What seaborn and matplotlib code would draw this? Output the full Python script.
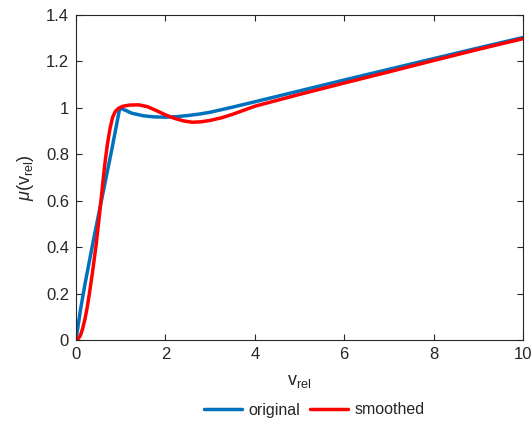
import numpy as np
import pandas as pd
import matplotlib
matplotlib.use("Agg")
import matplotlib.pyplot as plt
from matplotlib.ticker import FuncFormatter
import seaborn as sns

# friction coefficient vs. relative velocity: original piecewise model
v_original = [0.0, 0.1, 0.2, 0.4, 0.6, 0.8, 0.98, 1.1, 1.25, 1.5, 1.75, 2.0,
              2.25, 2.5, 2.75, 3.0, 3.5, 4.0, 5.0, 6.0, 7.0, 8.0, 9.0, 10.0]
mu_original = [0.0, 0.13, 0.24, 0.44, 0.63, 0.82, 1.0, 0.99, 0.977, 0.966, 0.961, 0.96,
               0.962, 0.967, 0.973, 0.981, 1.003, 1.026, 1.073, 1.12, 1.166, 1.212, 1.258, 1.303]

# smoothed approximation of the same curve
v_smoothed = [0.0, 0.05, 0.1, 0.15, 0.2, 0.25, 0.3, 0.375, 0.45, 0.52, 0.58, 0.64,
              0.7, 0.76, 0.82, 0.88, 0.95, 1.05, 1.2, 1.4, 1.6, 1.8, 2.0, 2.2,
              2.4, 2.6, 2.8, 3.0, 3.25, 3.5, 4.0, 5.0, 6.0, 7.0, 8.0, 9.0, 10.0]
mu_smoothed = [0.0, 0.005, 0.02, 0.05, 0.09, 0.14, 0.2, 0.3, 0.41, 0.53, 0.64, 0.75,
               0.84, 0.91, 0.96, 0.985, 0.998, 1.007, 1.012, 1.013, 1.005, 0.988, 0.97, 0.955,
               0.944, 0.938, 0.94, 0.946, 0.957, 0.972, 1.007, 1.058, 1.107, 1.155, 1.204, 1.252, 1.298]

series_names = ["original", "smoothed"]
series_colors = ["#0072BD", "#FF0000"]

x_ticks = [0, 2, 4, 6, 8, 10]
y_ticks = [0, 0.2, 0.4, 0.6, 0.8, 1.0, 1.2, 1.4]

df = pd.concat([
    pd.DataFrame({"v": v_original, "mu": mu_original, "series": series_names[0]}),
    pd.DataFrame({"v": v_smoothed, "mu": mu_smoothed, "series": series_names[1]}),
], ignore_index=True)

sns.set_theme(style="white")
plt.rcParams["font.family"] = ["Liberation Sans", "DejaVu Sans"]
plt.rcParams["mathtext.fontset"] = "custom"
plt.rcParams["mathtext.rm"] = "Liberation Sans"
plt.rcParams["mathtext.it"] = "Liberation Sans:italic"

fig = plt.figure(figsize=(5.32, 4.24), dpi=100)
ax = fig.add_axes([76 / 532, 1 - 340 / 424, 447 / 532, 325 / 424])

sns.lineplot(data=df, x="v", y="mu", hue="series", palette=series_colors,
             hue_order=series_names, estimator=None, sort=False,
             linewidth=2.5, ax=ax, legend=False)

ax.set_xlim(0, 10)
ax.set_ylim(0, 1.4)
ax.set_xticks(x_ticks)
ax.set_yticks(y_ticks)
ax.yaxis.set_major_formatter(FuncFormatter(lambda v, p: f"{v:g}"))

edge = "#262626"
for s in ax.spines.values():
    s.set_visible(True)
    s.set_color(edge)
    s.set_linewidth(0.8)
ax.tick_params(direction="in", length=4.5, width=0.8, colors=edge, labelcolor=edge,
               labelsize=12, top=True, right=True, bottom=True, left=True, pad=5)

ax.set_xlabel(r"v$_{\mathrm{rel}}$", fontsize=13, color=edge, labelpad=8)
ax.set_ylabel(r"$\mu$(v$_{\mathrm{rel}}$)", fontsize=13, color=edge, labelpad=7)

handles = [plt.Line2D([], [], color=c, linewidth=2.5) for c in series_colors]
fig.legend(handles, series_names, loc="center", bbox_to_anchor=(314 / 532, 1 - 410 / 424),
           ncol=2, frameon=False, fontsize=11.5, handlelength=2.4, handletextpad=0.4,
           columnspacing=0.6, labelcolor=edge)

fig.savefig("out.png", dpi=100)
